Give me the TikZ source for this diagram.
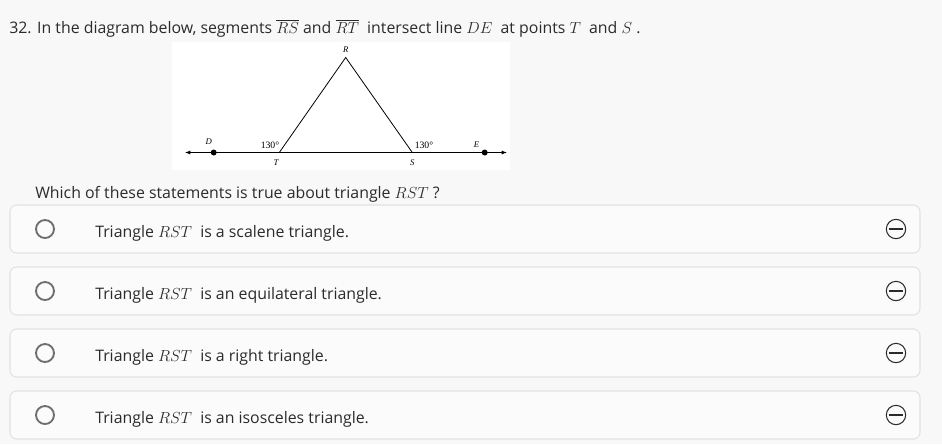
\documentclass[tikz,border=0pt]{standalone}
\usepackage{fontspec}
\setmainfont{Open Sans}
\newfontfamily\figfont{Liberation Serif}
\usetikzlibrary{arrows.meta,positioning}
\definecolor{pagebg}{HTML}{F8F8F8}
\definecolor{boxline}{HTML}{E2E2E2}
\definecolor{radiogray}{HTML}{6E6E6E}
\definecolor{textgray}{HTML}{2B2B2B}
\tikzset{
	optbox/.style={draw=boxline, fill=pagebg!60!white, rounded corners=5pt, line width=0.8pt,
		minimum width=682.5pt, minimum height=36pt, inner sep=0pt},
	radio/.style={circle, draw=radiogray, line width=1.4pt, minimum size=13.5pt, inner sep=0pt},
	minusicon/.style={circle, draw=textgray, line width=0.8pt, minimum size=14.5pt, inner sep=0pt},
	opttext/.style={anchor=base west, inner sep=0pt, text=textgray, font=\fontsize{11.9}{14}\selectfont},
	vlabel/.style={inner sep=0pt, font=\figfont\itshape\fontsize{6.5}{7}\selectfont},
	anglabel/.style={inner sep=0pt, font=\figfont\fontsize{7.3}{8}\selectfont},
	dot/.style={circle, fill=black, minimum size=4.5pt, inner sep=0pt},
	ray/.style={line width=0.6pt, -{Latex[length=4pt,width=3pt]}}
}

\begin{document}
\begin{tikzpicture}[x=0.75pt,y=-0.75pt]

	% page
	\fill[pagebg] (0,0) rectangle (942,444);
	\useasboundingbox (0,0) rectangle (942,444);

	% question
	\node[opttext] (q) at (9,33) {32. In the diagram below, segments $\overline{RS}$ and $\overline{RT}$\ \ intersect line $DE$\ \ at points $T$\ \ and $S$ .};

	% figure
	\fill[white] (172,42) rectangle (510,170);
	\coordinate (R) at (345.7,57.5);
	\coordinate (T) at (279.3,152.5);
	\coordinate (S) at (412.3,152.5);
	\coordinate (endL) at (185,152.5);
	\coordinate (endR) at (507,152.5);
	\node[dot] (D) at (213.7,152.5) {};
	\node[dot] (E) at (484.7,152.5) {};
	\draw[line width=0.6pt, line join=miter] (R) -- (T) -- (S) -- cycle;
	\draw[ray] (T) -- (D.center) -- (endL);
	\draw[ray] (S) -- (E.center) -- (endR);
	\node[vlabel] (lR) at (345.7,49.3) {R};
	\node[vlabel] (lT) at (276,162.7) {T};
	\node[vlabel] (lS) at (412.3,162.7) {S};
	\node[vlabel] (lD) at (208.7,141.5) {D};
	\node[vlabel] (lE) at (476.5,144.5) {E};
	\node[anglabel] (aT) at (270,145) {130°};
	\node[anglabel] (aS) at (424,145) {130°};

	\node[opttext] (ask) at (35,198) {Which of these statements is true about triangle $RST$ ?};

	% options
	\node[optbox] (box1) at (465,229) {};
	\node[radio] (r1) at (45,229) {};
	\node[opttext] (t1) at (95,237.5) {Triangle $RST$\ \ is a scalene triangle.};
	\node[minusicon] (m1) at (896,229) {};
	\draw[textgray, line width=0.8pt] ([xshift=2.2pt]m1.west) -- ([xshift=-2.2pt]m1.east);

	\node[optbox] (box2) at (465,291) {};
	\node[radio] (r2) at (45,291) {};
	\node[opttext] (t2) at (95,299.5) {Triangle $RST$\ \ is an equilateral triangle.};
	\node[minusicon] (m2) at (896,291) {};
	\draw[textgray, line width=0.8pt] ([xshift=2.2pt]m2.west) -- ([xshift=-2.2pt]m2.east);

	\node[optbox] (box3) at (465,353) {};
	\node[radio] (r3) at (45,353) {};
	\node[opttext] (t3) at (95,361.5) {Triangle $RST$\ \ is a right triangle.};
	\node[minusicon] (m3) at (896,353) {};
	\draw[textgray, line width=0.8pt] ([xshift=2.2pt]m3.west) -- ([xshift=-2.2pt]m3.east);

	\node[optbox] (box4) at (465,415) {};
	\node[radio] (r4) at (45,415) {};
	\node[opttext] (t4) at (95,423.5) {Triangle $RST$\ \ is an isosceles triangle.};
	\node[minusicon] (m4) at (896,415) {};
	\draw[textgray, line width=0.8pt] ([xshift=2.2pt]m4.west) -- ([xshift=-2.2pt]m4.east);

\end{tikzpicture}
\end{document}
